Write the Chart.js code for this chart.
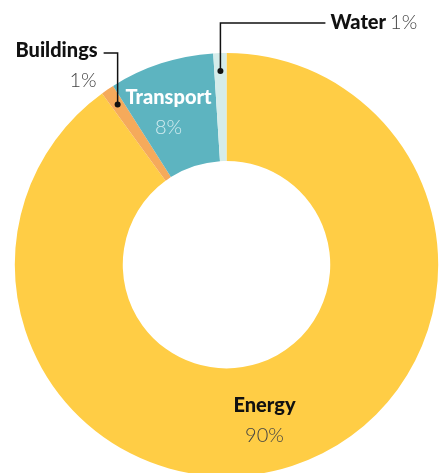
<!DOCTYPE html>
<html>
<head>
<meta charset="utf-8">
<script src="https://cdn.jsdelivr.net/npm/chart.js@4.4.0/dist/chart.umd.min.js"></script>
<style>
  html, body { margin: 0; padding: 0; background: #fff; overflow: hidden; width: 440px; height: 473px; }
  #wrap { position: relative; width: 440px; height: 480px; }
</style>
</head>
<body>
<div id="wrap"><canvas id="c" width="440" height="480"></canvas></div>
<script>
// Share of the total, by sector (clockwise from 12 o'clock)
const categories = ['Energy', 'Buildings', 'Transport', 'Water'];
const shares = [90, 1, 8, 1];
const sliceColors = ['#FFCD45', '#F5AA5B', '#5DB4C0', '#D5ECEA'];

const FONT = 'Lato, "Source Sans Pro", "Open Sans", sans-serif';

function midPoint(arc, r) {
  const m = (arc.startAngle + arc.endAngle) / 2;
  return [arc.x + Math.cos(m) * r, arc.y + Math.sin(m) * r];
}

function pct(v) { return v + '%'; }

const labelPlugin = {
  id: 'sectorLabels',
  afterDatasetsDraw(chart) {
    const ctx = chart.ctx;
    const arcs = chart.getDatasetMeta(0).data;
    const cx = arcs[0].x, cy = arcs[0].y, R = arcs[0].outerRadius;
    const idx = name => categories.indexOf(name);
    ctx.save();

    // Leader lines with dots for the thin slices
    ctx.strokeStyle = '#111';
    ctx.fillStyle = '#111';
    ctx.lineWidth = 1.5;

    // Water
    const w = arcs[idx('Water')];
    const [wx, wy] = midPoint(w, R - 18);
    const wTop = cy - R - 30;
    ctx.beginPath();
    ctx.moveTo(wx, wy);
    ctx.lineTo(wx, wTop);
    ctx.lineTo(wx + 105, wTop);
    ctx.stroke();
    ctx.beginPath(); ctx.arc(wx, wy, 3, 0, Math.PI * 2); ctx.fill();

    // Buildings
    const b = arcs[idx('Buildings')];
    const [bx, by] = midPoint(b, R - 18);
    const bTop = cy - R;
    ctx.beginPath();
    ctx.moveTo(bx, by);
    ctx.lineTo(bx, bTop);
    ctx.lineTo(bx - 14, bTop);
    ctx.stroke();
    ctx.beginPath(); ctx.arc(bx, by, 3, 0, Math.PI * 2); ctx.fill();

    ctx.textBaseline = 'alphabetic';
    const BOLD = '900 20px ' + FONT;
    const LIGHT = '300 20px ' + FONT;
    const GREY = '#444';

    // Water text
    ctx.textAlign = 'left';
    ctx.font = BOLD;
    ctx.fillStyle = '#111';
    const wText = categories[idx('Water')];
    const wLeft = wx + 110;
    ctx.fillText(wText, wLeft, wTop + 6);
    const ww = ctx.measureText(wText).width;
    ctx.font = LIGHT;
    ctx.fillStyle = GREY;
    ctx.fillText(pct(shares[idx('Water')]), wLeft + ww + 4, wTop + 6);

    // Buildings text
    ctx.textAlign = 'right';
    ctx.font = BOLD;
    ctx.fillStyle = '#111';
    ctx.fillText(categories[idx('Buildings')], bx - 20, bTop + 4);
    ctx.font = LIGHT;
    ctx.fillStyle = GREY;
    ctx.fillText(pct(shares[idx('Buildings')]), bx - 21, bTop + 34);

    // Transport text (inside the slice)
    ctx.textAlign = 'center';
    const tX = cx - 58;
    ctx.font = BOLD;
    ctx.fillStyle = '#fff';
    ctx.fillText(categories[idx('Transport')], tX, cy - 161);
    ctx.font = LIGHT;
    ctx.fillStyle = '#D3ECF0';
    ctx.fillText(pct(shares[idx('Transport')]), tX, cy - 131);

    // Energy text
    const eX = cx + 38;
    ctx.font = BOLD;
    ctx.fillStyle = '#111';
    ctx.fillText(categories[idx('Energy')], eX, cy + 147);
    ctx.font = LIGHT;
    ctx.fillStyle = GREY;
    ctx.fillText(pct(shares[idx('Energy')]), eX, cy + 177);

    ctx.restore();
  }
};

new Chart(document.getElementById('c'), {
  type: 'doughnut',
  data: {
    labels: categories,
    datasets: [{
      data: shares,
      backgroundColor: sliceColors,
      borderWidth: 0,
      hoverOffset: 0
    }]
  },
  options: {
    responsive: false,
    animation: false,
    cutout: '49%',
    layout: { padding: { left: 14.8, right: 1.8, top: 53, bottom: 3.6 } },
    plugins: { legend: { display: false }, tooltip: { enabled: false } },
    events: []
  },
  plugins: [labelPlugin]
});
</script>
</body>
</html>
